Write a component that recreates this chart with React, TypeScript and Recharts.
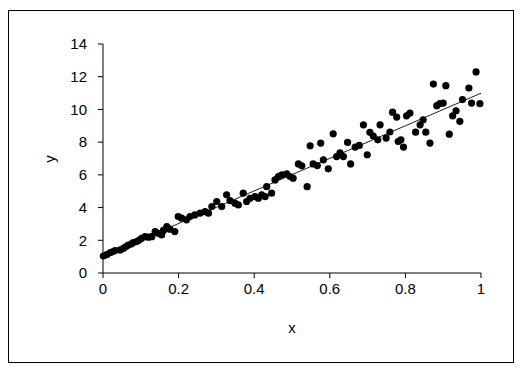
import React from 'react';
import { ScatterChart, Scatter, XAxis, YAxis, ReferenceLine } from 'recharts';

// x values
const xs = [
  0.001, 0.01, 0.019, 0.025, 0.032, 0.045, 0.054, 0.06, 0.067, 0.075,
  0.08, 0.089, 0.095, 0.102, 0.111, 0.12, 0.129, 0.138, 0.146, 0.155,
  0.16, 0.169, 0.177, 0.19, 0.199, 0.208, 0.221, 0.23, 0.243, 0.257,
  0.27, 0.279, 0.288, 0.301, 0.314, 0.327, 0.336, 0.349, 0.358, 0.371,
  0.38, 0.389, 0.402, 0.411, 0.42, 0.429, 0.433, 0.446, 0.455, 0.464,
  0.473, 0.486, 0.495, 0.503, 0.517, 0.526, 0.54, 0.548, 0.556, 0.567,
  0.576, 0.583, 0.596, 0.609, 0.618, 0.627, 0.636, 0.647, 0.655, 0.667,
  0.678, 0.689, 0.699, 0.706, 0.715, 0.727, 0.733, 0.749, 0.759, 0.766,
  0.777, 0.781, 0.788, 0.795, 0.803, 0.812, 0.827, 0.839, 0.847, 0.854,
  0.865, 0.874, 0.883, 0.891, 0.9, 0.907, 0.916, 0.925, 0.934, 0.944,
  0.951, 0.968, 0.975, 0.987, 0.997,
];

// y values, same order
const ys = [
  1.04, 1.12, 1.24, 1.3, 1.37, 1.41, 1.51, 1.6, 1.71, 1.78,
  1.86, 1.92, 2.0, 2.12, 2.22, 2.19, 2.22, 2.53, 2.43, 2.33,
  2.6, 2.84, 2.68, 2.53, 3.45, 3.35, 3.25, 3.45, 3.55, 3.66,
  3.75, 3.66, 4.06, 4.37, 4.06, 4.78, 4.43, 4.27, 4.16, 4.88,
  4.37, 4.57, 4.67, 4.57, 4.78, 4.67, 5.28, 4.88, 5.69, 5.9,
  6.0, 6.06, 5.9, 5.8, 6.67, 6.55, 5.28, 7.78, 6.67, 6.57,
  7.94, 6.92, 6.37, 8.51, 7.12, 7.35, 7.12, 7.98, 6.67, 7.7,
  7.8, 9.06, 7.23, 8.6, 8.37, 8.14, 9.06, 8.25, 8.62, 9.83,
  9.53, 8.04, 8.14, 7.7, 9.61, 9.78, 8.61, 9.06, 9.37, 8.61,
  7.94, 11.55, 10.23, 10.35, 10.39, 11.45, 8.49, 9.61, 9.92, 9.27,
  10.6, 11.31, 10.39, 12.29, 10.35,
];

const xTicks = [0, 0.2, 0.4, 0.6, 0.8, 1];
const yTicks = [0, 2, 4, 6, 8, 10, 12, 14];

const points = xs.map((x, i) => ({ x, y: ys[i] }));

// linear trend line (least squares), like the spreadsheet trendline
const n = xs.length;
const mx = xs.reduce((a, b) => a + b, 0) / n;
const my = ys.reduce((a, b) => a + b, 0) / n;
let sxy = 0;
let sxx = 0;
xs.forEach((x, i) => {
  sxy += (x - mx) * (ys[i] - my);
  sxx += (x - mx) * (x - mx);
});
const slope = sxy / sxx;
const intercept = my - slope * mx;

const font = '"Liberation Sans", Arial, sans-serif';
const tickStyle = { fontSize: 15, fill: '#000', fontFamily: font };

const Dot = (props: any) => {
  const { cx, cy } = props;
  return <circle cx={cx} cy={cy} r={3.6} fill="#000" />;
};

export default function App() {
  return (
    <>
      <style>{'body{margin:0;overflow:hidden}'}</style>
      <div
        style={{
          position: 'absolute',
          left: 8,
          top: 10,
          width: 504,
          height: 351,
          border: '1px solid #000',
          background: '#fff',
        }}
      >
        <ScatterChart
          width={504}
          height={351}
          margin={{ top: 33, right: 32, left: 0, bottom: 0 }}
        >
          <XAxis
            type="number"
            dataKey="x"
            domain={[0, 1]}
            ticks={xTicks}
            height={89}
            tickSize={5}
            tickMargin={5}
            stroke="#000"
            tick={tickStyle}
            label={{ value: 'x', position: 'center', dy: 10, style: tickStyle }}
          />
          <YAxis
            type="number"
            dataKey="y"
            domain={[0, 14]}
            ticks={yTicks}
            width={94}
            tickSize={5}
            tickMargin={11}
            stroke="#000"
            tick={tickStyle}
          />
          <Scatter data={points} shape={<Dot />} isAnimationActive={false} />
          <ReferenceLine
            segment={[
              { x: 0, y: intercept },
              { x: 1, y: intercept + slope },
            ]}
            stroke="#222"
            strokeWidth={1}
            ifOverflow="visible"
          />
          {/* rotated y title */}
          <g transform="translate(40 148) rotate(-90)">
            <text
              x={0}
              y={0}
              textAnchor="middle"
              dominantBaseline="central"
              fontSize={15}
              fontFamily={font}
              fill="#000"
            >
              y
            </text>
          </g>
        </ScatterChart>
      </div>
    </>
  );
}
